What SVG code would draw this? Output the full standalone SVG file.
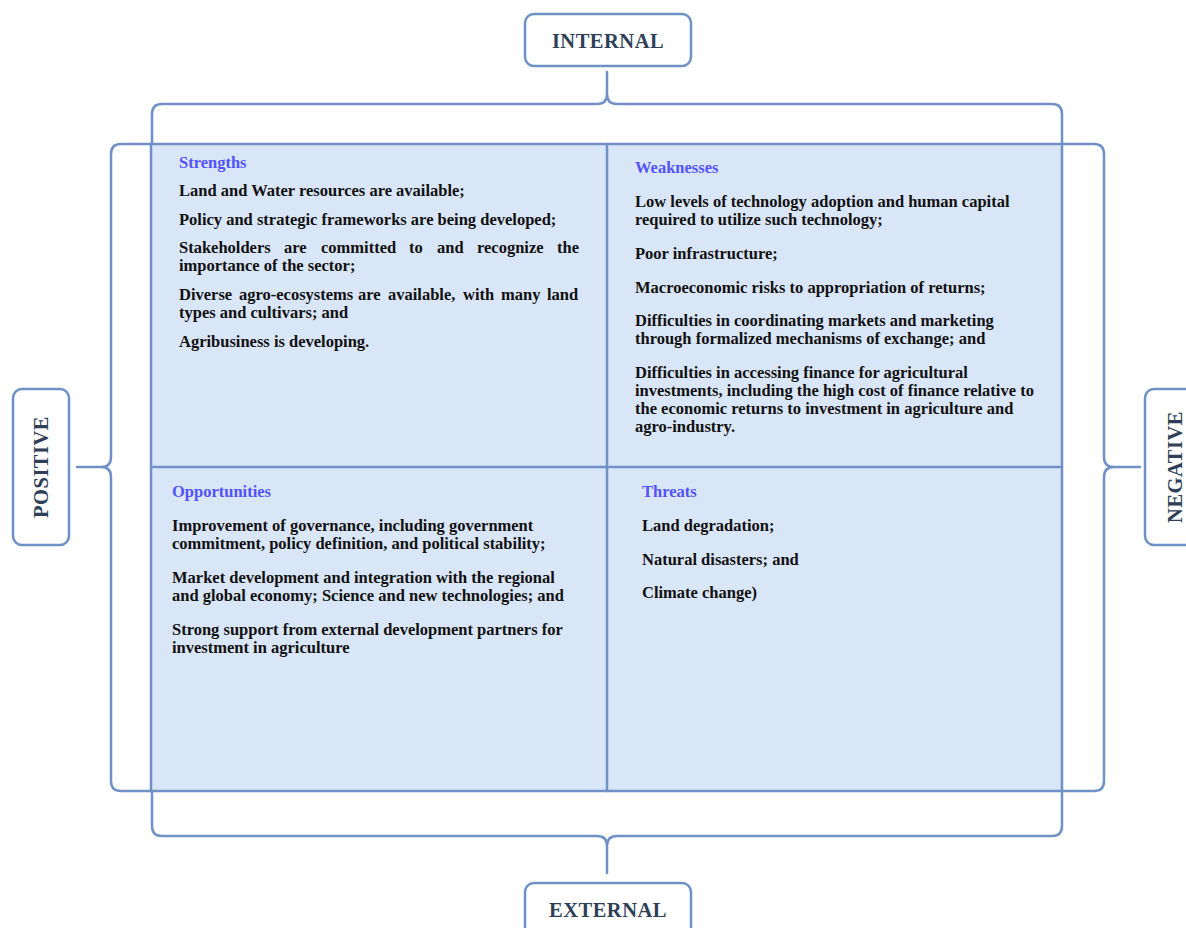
<svg xmlns="http://www.w3.org/2000/svg" width="1186" height="928" viewBox="0 0 1186 928">
<style>
.ln{fill:none;stroke:#6f91c6;stroke-width:2.5;stroke-linecap:round;stroke-linejoin:round}
.box{fill:#ffffff;stroke:#6f91c6;stroke-width:2.5}
.lab{font-family:"Liberation Serif","Times New Roman",serif;font-weight:bold;font-size:20.5px;fill:#2f3f58;letter-spacing:0.5px}
.ttl{font-family:"Liberation Serif","Times New Roman",serif;font-weight:bold;font-size:16.5px;fill:#5252ff}
.txt{font-family:"Liberation Serif","Times New Roman",serif;font-weight:bold;font-size:16.5px;fill:#111111}
</style>
<rect width="1186" height="928" fill="#ffffff"/>
<g id="grid">
<rect x="151" y="144" width="911" height="647" fill="#d9e6f8" stroke="#6f91c6" stroke-width="2.5"/>
<line x1="607" y1="144" x2="607" y2="791" class="ln"/>
<line x1="151" y1="467" x2="1062" y2="467" class="ln"/>
</g>
<g id="connectors">
<path class="ln" d="M152,144 V114 Q152,104 162,104 H597 Q607,104 607,94 V72 M607,94 Q607,104 617,104 H1052 Q1062,104 1062,114 V144"/>
<path class="ln" d="M151,144 H121 Q111,144 111,154 V457 Q111,467 101,467 H77 M101,467 Q111,467 111,477 V781 Q111,791 121,791 H151"/>
<path class="ln" d="M1062,144 H1094 Q1104,144 1104,154 V457 Q1104,467 1114,467 H1140 M1114,467 Q1104,467 1104,477 V781 Q1104,791 1094,791 H1062"/>
<path class="ln" d="M152,791 V826 Q152,836 162,836 H597 Q607,836 607,846 V873 M607,846 Q607,836 617,836 H1052 Q1062,836 1062,826 V791"/>
</g>
<g id="internal">
<rect class="box" x="525" y="14" width="166" height="52" rx="9"/>
<text class="lab" x="608" y="48" text-anchor="middle">INTERNAL</text>
</g>
<g id="external">
<rect class="box" x="525" y="883" width="166" height="60" rx="9"/>
<text class="lab" x="608" y="917" text-anchor="middle">EXTERNAL</text>
</g>
<g id="positive">
<rect class="box" x="13" y="389" width="56" height="156" rx="9"/>
<text class="lab" transform="translate(48,467) rotate(-90)" text-anchor="middle">POSITIVE</text>
</g>
<g id="negative">
<rect class="box" x="1145" y="389" width="60" height="156" rx="9"/>
<text class="lab" transform="translate(1182,467) rotate(-90)" text-anchor="middle">NEGATIVE</text>
</g>
<g id="strengths">
<text class="ttl" x="179" y="168">Strengths</text>
<text class="txt" x="179" y="196">Land and Water resources are available;</text>
<text class="txt" x="179" y="225">Policy and strategic frameworks are being developed;</text>
<text class="txt" y="253"><tspan x="179">Stakeholders</tspan> <tspan x="284">are</tspan> <tspan x="321">committed</tspan> <tspan x="409">to</tspan> <tspan x="437">and</tspan> <tspan x="477">recognize</tspan> <tspan x="557">the</tspan></text>
<text class="txt" x="179" y="271">importance of the sector;</text>
<text class="txt" y="300"><tspan x="179">Diverse</tspan> <tspan x="239">agro-ecosystems</tspan> <tspan x="358">are</tspan> <tspan x="388">available,</tspan> <tspan x="463">with</tspan> <tspan x="501">many</tspan> <tspan x="547">land</tspan></text>
<text class="txt" x="179" y="318">types and cultivars; and</text>
<text class="txt" x="179" y="347">Agribusiness is developing.</text>
</g>
<g id="weaknesses">
<text class="ttl" x="635" y="173">Weaknesses</text>
<text class="txt" x="635" y="207">Low levels of technology adoption and human capital</text>
<text class="txt" x="635" y="225">required to utilize such technology;</text>
<text class="txt" x="635" y="259">Poor infrastructure;</text>
<text class="txt" x="635" y="293">Macroeconomic risks to appropriation of returns;</text>
<text class="txt" x="635" y="326">Difficulties in coordinating markets and marketing</text>
<text class="txt" x="635" y="344">through formalized mechanisms of exchange; and</text>
<text class="txt" x="635" y="378">Difficulties in accessing finance for agricultural</text>
<text class="txt" x="635" y="396">investments, including the high cost of finance relative to</text>
<text class="txt" x="635" y="414">the economic returns to investment in agriculture and</text>
<text class="txt" x="635" y="432">agro-industry.</text>
</g>
<g id="opportunities">
<text class="ttl" x="172" y="497">Opportunities</text>
<text class="txt" x="172" y="531">Improvement of governance, including government</text>
<text class="txt" x="172" y="549">commitment, policy definition, and political stability;</text>
<text class="txt" x="172" y="583">Market development and integration with the regional</text>
<text class="txt" x="172" y="601">and global economy; Science and new technologies; and</text>
<text class="txt" x="172" y="635">Strong support from external development partners for</text>
<text class="txt" x="172" y="653">investment in agriculture</text>
</g>
<g id="threats">
<text class="ttl" x="642" y="497">Threats</text>
<text class="txt" x="642" y="531">Land degradation;</text>
<text class="txt" x="642" y="565">Natural disasters; and</text>
<text class="txt" x="642" y="598">Climate change)</text>
</g>
</svg>
